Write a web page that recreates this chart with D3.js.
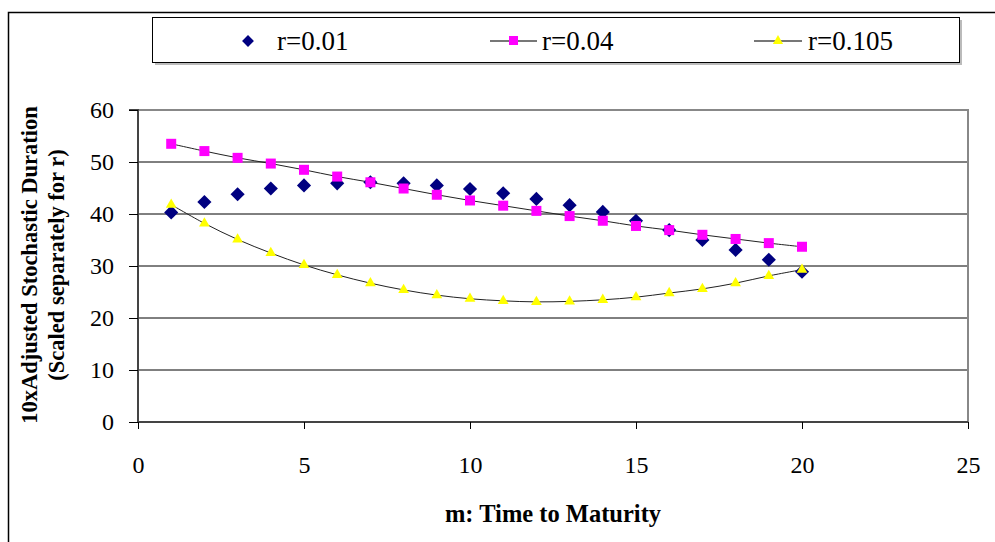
<!DOCTYPE html>
<html><head><meta charset="utf-8">
<script src="https://cdn.jsdelivr.net/npm/d3@7"></script>
<style>body{margin:0;background:#fff}svg{display:block}svg text{font-family:"Liberation Serif","Times New Roman","DejaVu Serif",serif !important}</style>
</head><body>
<script>
const maturity = [1,2,3,4,5,6,7,8,9,10,11,12,13,14,15,16,17,18,19,20];
const r001 = [40.3,42.3,43.8,44.9,45.5,45.9,46.1,45.9,45.5,44.8,44.0,42.9,41.7,40.4,38.7,36.9,35.0,33.1,31.2,28.9];
const r004 = [53.5,52.1,50.8,49.7,48.5,47.2,46.1,44.9,43.7,42.6,41.6,40.6,39.6,38.7,37.7,36.9,36.0,35.2,34.4,33.7];
const r0105 = [41.8,38.2,35.1,32.5,30.2,28.3,26.7,25.4,24.4,23.7,23.3,23.1,23.2,23.5,24.0,24.8,25.6,26.7,28.1,29.3];
const seriesNames = ["r=0.01","r=0.04","r=0.105"];
const xTicks = [0,5,10,15,20,25];
const yTicks = [0,10,20,30,40,50,60];

const W=995,H=542;
const svg=d3.select("body").append("svg").attr("width",W).attr("height",H);

// outer frame
svg.append("path").attr("d","M8.5,542 V12.5 H995").attr("fill","none").attr("stroke","#000").attr("stroke-width",1.5);

const x=d3.scaleLinear().domain([0,25]).range([138,968]);
const y=d3.scaleLinear().domain([0,60]).range([422,110]);

// gridlines
svg.append("g").selectAll("line").data(yTicks.filter(d=>d>0&&d<60)).join("line")
 .attr("x1",x(0)).attr("x2",x(25)).attr("y1",d=>y(d)).attr("y2",d=>y(d))
 .attr("stroke","#000").attr("stroke-width",1);
// plot border top/right gray
svg.append("path").attr("d",`M${x(0)},${y(60)} H${x(25)} V${y(0)}`).attr("fill","none").attr("stroke","#888").attr("stroke-width",2);

// axes
const xAxis=svg.append("g").attr("transform",`translate(0,${y(0)})`)
 .call(d3.axisBottom(x).tickValues(xTicks).tickSize(7).tickPadding(27));
const yAxis=svg.append("g").attr("transform",`translate(${x(0)},0)`)
 .call(d3.axisLeft(y).tickValues(yTicks).tickSize(9).tickPadding(15));
[xAxis,yAxis].forEach(a=>{
  a.select(".domain").attr("stroke","#444").attr("stroke-width",2);
  a.selectAll(".tick line").attr("stroke","#000");
  a.selectAll("text").attr("font-size",24).attr("fill","#000");
});
yAxis.select(".domain").attr("d",`M-9,${y(60)}H0V${y(0)}`);
xAxis.select(".domain").attr("d",`M${x(0)},0H${x(25)}`);

// axis titles
svg.append("text").attr("x",553).attr("y",522).attr("text-anchor","middle")
 .attr("font-weight","bold").attr("font-size",24.5).text("m: Time to Maturity");
const yt=svg.append("text").attr("transform","translate(37,265) rotate(-90)").attr("text-anchor","middle")
 .attr("font-weight","bold").attr("font-size",22.5);
yt.append("tspan").attr("x",0).attr("dy",0).text("10xAdjusted Stochastic Duration");
yt.append("tspan").attr("x",0).attr("dy",27).text("(Scaled separately for r)");

// lines
const line=d3.line().x(d=>x(d[0])).y(d=>y(d[1])).curve(d3.curveCatmullRom);
const d004=maturity.map((m,i)=>[m,r004[i]]);
const d0105=maturity.map((m,i)=>[m,r0105[i]]);
const d001=maturity.map((m,i)=>[m,r001[i]]);
svg.append("path").attr("d",line(d004)).attr("fill","none").attr("stroke","#222").attr("stroke-width",1);
svg.append("path").attr("d",line(d0105)).attr("fill","none").attr("stroke","#222").attr("stroke-width",1);

// markers
const diamond=d3.symbol().type(d3.symbolSquare).size(100)();
svg.append("g").selectAll("path").data(d001).join("path")
 .attr("d",diamond).attr("transform",d=>`translate(${x(d[0])},${y(d[1])}) rotate(45)`).attr("fill","#000080");
svg.append("g").selectAll("rect").data(d004).join("rect")
 .attr("x",d=>x(d[0])-5).attr("y",d=>y(d[1])-5).attr("width",10).attr("height",10).attr("fill","#FF00FF");
const tri=d3.symbol().type(d3.symbolTriangle).size(50)();
svg.append("g").selectAll("path").data(d0105).join("path")
 .attr("d",tri).attr("transform",d=>`translate(${x(d[0])},${y(d[1])})`).attr("fill","#FFFF00");

// legend
const lg=svg.append("g");
lg.append("rect").attr("x",155).attr("y",20).attr("width",807).attr("height",45).attr("fill","#bbb");
lg.append("rect").attr("x",152.5).attr("y",17.5).attr("width",807).attr("height",45).attr("fill","#fff").attr("stroke","#000").attr("stroke-width",1);
const ly=41;
lg.append("path").attr("d",d3.symbol().type(d3.symbolSquare).size(70)()).attr("transform",`translate(248,${ly}) rotate(45)`).attr("fill","#000080");
lg.append("line").attr("x1",490).attr("x2",537).attr("y1",ly).attr("y2",ly).attr("stroke","#777").attr("stroke-width",2);
lg.append("rect").attr("x",509).attr("y",ly-5).attr("width",9).attr("height",9).attr("fill","#FF00FF");
lg.append("line").attr("x1",754).attr("x2",802).attr("y1",ly).attr("y2",ly).attr("stroke","#777").attr("stroke-width",2);
lg.append("path").attr("d",d3.symbol().type(d3.symbolTriangle).size(45)()).attr("transform",`translate(778,${ly})`).attr("fill","#FFFF00");
[[277,0],[542,1],[808,2]].forEach(([lx,i])=>{
  lg.append("text").attr("x",lx).attr("y",ly+9).attr("font-size",27).text(seriesNames[i]);
});
</script>
</body></html>
